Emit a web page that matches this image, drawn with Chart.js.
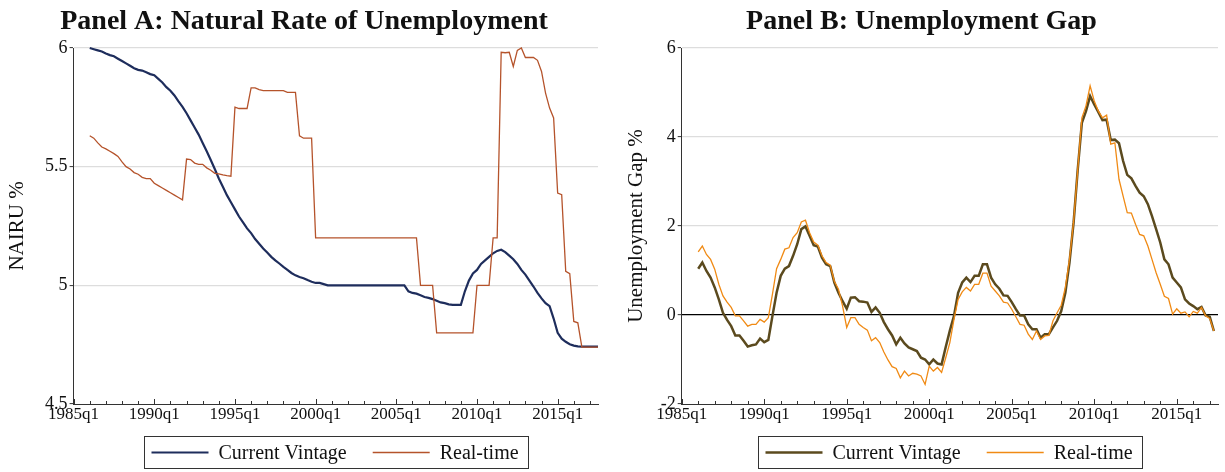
<!DOCTYPE html>
<html>
<head>
<meta charset="utf-8">
<title>Natural Rate of Unemployment and Unemployment Gap</title>
<script src="https://cdn.jsdelivr.net/npm/chart.js@4.4.1/dist/chart.umd.min.js"></script>
<style>
  html, body { margin: 0; padding: 0; background: #ffffff; }
  #wrap { position: relative; width: 1225px; height: 472px; overflow: hidden; }
  canvas { position: absolute; top: 0; }
  #ca { left: 0; }
  #cb { left: 612px; }
</style>
</head>
<body>
<div id="wrap">
  <canvas id="ca" width="612" height="472"></canvas>
  <canvas id="cb" width="613" height="472"></canvas>
</div>
<script>
// ---------- categories: quarters 1985q1 .. 2017q3 ----------
const firstYear = 1985, lastYear = 2017, lastQuarter = 3;
const quarterLabels = [];
for (let y = firstYear; y <= lastYear; y++) {
  for (let q = 1; q <= 4; q++) {
    if (y === lastYear && q > lastQuarter) break;
    quarterLabels.push(y + 'q' + q);
  }
}
// series start at 1986q1
const seriesStart = '1986q1';

// ---------- tick labels ----------
const xTickLabels = ['1985q1', '1990q1', '1995q1', '2000q1', '2005q1', '2010q1', '2015q1'];
const nairuTicks = [4.5, 5, 5.5, 6];
const gapTicks = [-2, 0, 2, 4, 6];

// ---------- Panel A: NAIRU, 1986q1 .. 2017q3 ----------
const nairuCurrent = [
  6.00, 5.995, 5.99, 5.985,   5.977, 5.97, 5.965, 5.955,   5.945, 5.935, 5.925, 5.915,
  5.908, 5.905, 5.898, 5.89,  5.885, 5.87, 5.855, 5.835,   5.82, 5.80, 5.775, 5.752,
  5.725, 5.695, 5.665, 5.635, 5.60, 5.565, 5.528, 5.49,    5.45, 5.415, 5.38, 5.35,
  5.32, 5.29, 5.265, 5.24,    5.22, 5.195, 5.175, 5.155,   5.138, 5.12, 5.105, 5.092,
  5.078, 5.065, 5.052, 5.042, 5.035, 5.03, 5.022, 5.015,   5.01, 5.01, 5.005, 5.00,
  5.00, 5.00, 5.00, 5.00,     5.00, 5.00, 5.00, 5.00,      5.00, 5.00, 5.00, 5.00,
  5.00, 5.00, 5.00, 5.00,     5.00, 5.00, 5.00, 4.975,     4.968, 4.965, 4.958, 4.951,
  4.947, 4.942, 4.935, 4.928, 4.925, 4.92, 4.918, 4.918,   4.918, 4.975, 5.02, 5.05,
  5.065, 5.09, 5.105, 5.12,   5.135, 5.145, 5.15, 5.14,    5.125, 5.11, 5.09, 5.065,
  5.045, 5.02, 4.995, 4.968,  4.945, 4.925, 4.912, 4.86,   4.80, 4.775, 4.762, 4.752,
  4.746, 4.743, 4.742, 4.742, 4.742, 4.742, 4.742
];
const nairuRealtime = [
  5.63, 5.62, 5.60, 5.583,    5.575, 5.565, 5.555, 5.543,  5.52, 5.50, 5.49, 5.475,
  5.468, 5.455, 5.45, 5.45,   5.43, 5.42, 5.41, 5.40,      5.39, 5.38, 5.37, 5.36,
  5.532, 5.53, 5.515, 5.51,   5.51, 5.495, 5.485, 5.472,   5.47, 5.465, 5.462, 5.46,
  5.751, 5.745, 5.745, 5.745, 5.832, 5.832, 5.825, 5.82,   5.82, 5.82, 5.82, 5.82,
  5.82, 5.813, 5.813, 5.813,  5.63, 5.62, 5.62, 5.62,      5.20, 5.20, 5.20, 5.20,
  5.20, 5.20, 5.20, 5.20,     5.20, 5.20, 5.20, 5.20,      5.20, 5.20, 5.20, 5.20,
  5.20, 5.20, 5.20, 5.20,     5.20, 5.20, 5.20, 5.20,      5.20, 5.20, 5.00, 5.00,
  5.00, 5.00, 4.80, 4.80,     4.80, 4.80, 4.80, 4.80,      4.80, 4.80, 4.80, 4.80,
  5.00, 5.00, 5.00, 5.00,     5.20, 5.20, 5.982, 5.98,     5.982, 5.922, 5.99, 6.00,
  5.96, 5.96, 5.96, 5.948,    5.901, 5.81, 5.747, 5.705,   5.389, 5.382, 5.059, 5.049,
  4.848, 4.842, 4.74, 4.74,   4.74, 4.74, 4.74
];

// ---------- Panel B: unemployment gap, 1986q1 .. 2017q2 ----------
const gapCurrent = [
  1.04, 1.18, 0.99, 0.84,     0.62, 0.35, 0.05, -0.11,     -0.25, -0.46, -0.46, -0.58,
  -0.71, -0.68, -0.66, -0.53, -0.61, -0.56, -0.02, 0.50,   0.88, 1.04, 1.10, 1.33,
  1.59, 1.93, 1.99, 1.78,     1.57, 1.54, 1.29, 1.14,      1.10, 0.73, 0.50, 0.31,
  0.14, 0.39, 0.40, 0.31,     0.30, 0.28, 0.07, 0.17,      0.05, -0.16, -0.32, -0.46,
  -0.66, -0.51, -0.64, -0.73, -0.77, -0.81, -0.96, -1.00,  -1.11, -1.00, -1.09, -1.11,
  -0.72, -0.35, -0.02, 0.50,  0.73, 0.84, 0.74, 0.88,      0.88, 1.14, 1.14, 0.84,
  0.69, 0.59, 0.44, 0.43,     0.29, 0.13, -0.01, -0.01,    -0.21, -0.32, -0.32, -0.51,
  -0.43, -0.43, -0.28, -0.13, 0.09, 0.50, 1.18, 2.08,      3.27, 4.32, 4.58, 4.92,
  4.73, 4.56, 4.38, 4.39,     3.93, 3.94, 3.86, 3.46,      3.15, 3.07, 2.90, 2.75,
  2.67, 2.49, 2.22, 1.93,     1.63, 1.25, 1.14, 0.84,      0.73, 0.62, 0.35, 0.26,
  0.20, 0.13, 0.18, -0.01,    -0.04, -0.36
];
const gapRealtime = [
  1.42, 1.55, 1.36, 1.25,     1.03, 0.69, 0.43, 0.29,      0.17, -0.02, -0.02, -0.13,
  -0.25, -0.21, -0.21, -0.10, -0.16, -0.06, 0.47, 1.04,    1.25, 1.48, 1.51, 1.74,
  1.85, 2.09, 2.13, 1.85,     1.64, 1.57, 1.33, 1.18,      1.12, 0.76, 0.58, 0.20,
  -0.28, -0.06, -0.06, -0.21, -0.28, -0.34, -0.58, -0.51,  -0.62, -0.83, -1.01, -1.16,
  -1.20, -1.41, -1.26, -1.37, -1.31, -1.33, -1.37, -1.56,  -1.15, -1.26, -1.18, -1.29,
  -0.96, -0.62, -0.10, 0.35,  0.52, 0.62, 0.54, 0.69,      0.69, 0.94, 0.94, 0.65,
  0.54, 0.43, 0.29, 0.27,     0.13, -0.04, -0.21, -0.23,   -0.43, -0.55, -0.36, -0.55,
  -0.47, -0.46, -0.13, 0.05,  0.22, 0.62, 1.25, 2.11,      3.27, 4.43, 4.70, 5.15,
  4.81, 4.58, 4.43, 4.49,     3.84, 3.87, 3.05, 2.67,      2.30, 2.29, 2.04, 1.81,
  1.78, 1.55, 1.25, 0.95,     0.69, 0.42, 0.37, 0.02,      0.14, 0.04, 0.07, -0.04,
  0.08, 0.04, 0.17, -0.02,    -0.08, -0.36
];

// ---------- styling ----------
const SERIF = "'Liberation Serif', 'DejaVu Serif', serif";
const AXIS = '#333333';
const GRID = '#dddddd';
const TEXT = '#111111';

// place a series on the quarter axis starting at seriesStart
function onQuarters(values) {
  const offset = quarterLabels.indexOf(seriesStart);
  return values.map((v, i) => ({ x: quarterLabels[offset + i], y: v }));
}

// title, legend and yearly tick marks for each panel
const panelDecor = {
  id: 'panelDecor',
  afterDraw(chart, args, opts) {
    const { ctx, chartArea } = chart;
    const xs = chart.scales.x;
    ctx.save();

    // yearly ticks on the time axis (longer at labelled years)
    ctx.strokeStyle = AXIS;
    ctx.lineWidth = 1;
    quarterLabels.forEach((lab, i) => {
      if (!lab.endsWith('q1')) return;
      const px = Math.round(xs.getPixelForValue(i)) + 0.5;
      const len = xTickLabels.includes(lab) ? 5 : 3;
      ctx.beginPath();
      ctx.moveTo(px, chartArea.bottom);
      ctx.lineTo(px, chartArea.bottom - len);
      ctx.stroke();
    });

    // panel title
    ctx.fillStyle = TEXT;
    ctx.font = `bold 28px ${SERIF}`;
    ctx.textAlign = 'center';
    ctx.textBaseline = 'alphabetic';
    ctx.fillText(opts.title, chart.width / 2 + opts.titleShift, 28.5);

    // legend box
    ctx.font = `20px ${SERIF}`;
    ctx.textBaseline = 'middle';
    ctx.textAlign = 'left';
    const ds = chart.data.datasets;
    const items = [ds[1], ds[0]]; // current vintage first, then real-time
    const sample = 57, gapText = 10, gapItem = 26, padL = 7, padR = 10;
    const widths = items.map(d => ctx.measureText(d.label).width);
    const total = padL + sample + gapText + widths[0] + gapItem + sample + gapText + widths[1] + padR;
    const cx = (chartArea.left + chartArea.right) / 2;
    const bx = Math.round(cx - total / 2) + 0.5;
    const by = 436.5, bh = 32;
    ctx.strokeStyle = AXIS;
    ctx.lineWidth = 1;
    ctx.strokeRect(bx, by, Math.round(total), bh);
    const cy = by + bh / 2;
    let x = bx + padL;
    items.forEach((d, k) => {
      ctx.strokeStyle = d.borderColor;
      ctx.lineWidth = d.borderWidth;
      ctx.beginPath();
      ctx.moveTo(x, cy);
      ctx.lineTo(x + sample, cy);
      ctx.stroke();
      x += sample + gapText;
      ctx.fillStyle = TEXT;
      ctx.fillText(d.label, x, cy + 1);
      x += widths[k] + gapItem;
    });
    ctx.restore();
  }
};

function makePanel(canvasId, p) {
  return new Chart(document.getElementById(canvasId), {
    type: 'line',
    data: {
      labels: quarterLabels,
      datasets: [
        { label: 'Real-time', data: onQuarters(p.realtime), borderColor: p.rtColor,
          borderWidth: 1.3, pointRadius: 0, tension: 0, fill: false, order: 0, clip: 4 },
        { label: 'Current Vintage', data: onQuarters(p.current), borderColor: p.cvColor,
          borderWidth: p.cvWidth, pointRadius: 0, tension: 0, fill: false, order: 1, clip: 4 }
      ]
    },
    options: {
      responsive: false,
      animation: false,
      events: [],
      layout: { padding: { top: 48, right: p.padRight, bottom: 40, left: 0 } },
      plugins: {
        legend: { display: false },
        tooltip: { enabled: false },
        title: { display: false },
        panelDecor: { title: p.title, titleShift: p.titleShift }
      },
      scales: {
        x: {
          type: 'category',
          offset: false,
          grid: { display: false, drawTicks: false },
          border: { display: true, color: AXIS, width: 1 },
          ticks: { autoSkip: false, maxRotation: 0, padding: 0, color: TEXT,
                   font: { family: SERIF, size: 17 } },
          afterBuildTicks: s => {
            s.ticks = s.ticks.filter(t => xTickLabels.includes(quarterLabels[t.value]));
          },
          afterFit: s => { s.height = 28; }
        },
        y: {
          min: p.ticks[0],
          max: p.ticks[p.ticks.length - 1],
          afterBuildTicks: s => { s.ticks = p.ticks.map(v => ({ value: v })); },
          grid: {
            drawTicks: true,
            tickLength: 4,
            tickColor: AXIS,
            tickWidth: 1,
            color: c => c.tick.value === p.ticks[0] ? 'rgba(0,0,0,0)'
                      : (c.tick.value === 0 ? '#000000' : GRID),
            lineWidth: c => c.tick.value === 0 ? 1.3 : 1.2
          },
          border: { display: true, color: AXIS, width: 1 },
          ticks: { padding: 2, color: TEXT, font: { family: SERIF, size: 18 },
                   callback: v => String(v) },
          title: { display: true, text: p.yTitle, color: TEXT,
                   font: { family: SERIF, size: 21 }, padding: { top: p.yTitlePad, bottom: 0 } },
          afterFit: s => { s.width = p.yWidth; }
        }
      }
    },
    plugins: [panelDecor]
  });
}

makePanel('ca', {
  title: 'Panel A: Natural Rate of Unemployment', titleShift: -2,
  yTitle: 'NAIRU %', yTitlePad: 5,
  current: nairuCurrent, realtime: nairuRealtime,
  cvColor: '#1e2d5c', cvWidth: 2.2, rtColor: '#b5532b',
  ticks: nairuTicks, yWidth: 73.6, padRight: 14
});

makePanel('cb', {
  title: 'Panel B: Unemployment Gap', titleShift: 3,
  yTitle: 'Unemployment Gap %', yTitlePad: 12,
  current: gapCurrent, realtime: gapRealtime,
  cvColor: '#5b4a1e', cvWidth: 2.5, rtColor: '#f08a14',
  ticks: gapTicks, yWidth: 69.7, padRight: 7
});
</script>
</body>
</html>
